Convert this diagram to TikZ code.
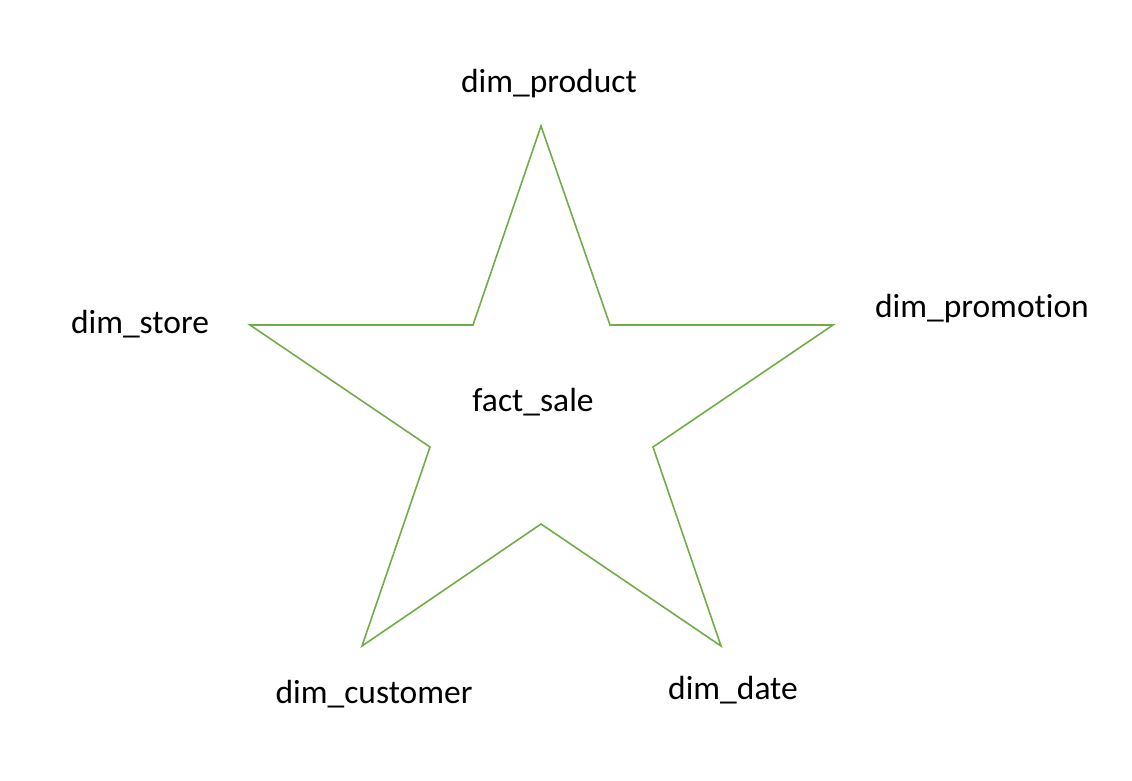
\documentclass[tikz,border=0pt]{standalone}
\usepackage{fontspec}
\setmainfont{Carlito}[RawFeature=-liga]
\definecolor{stargreen}{HTML}{70AD47}
\begin{document}
\begin{tikzpicture}[x=1pt,y=-1pt,
  lbl/.style={font=\fontsize{33.5}{38}\selectfont, text=black, inner sep=0pt, anchor=center},
  starline/.style={draw=stargreen, line width=1.6pt, line join=miter}]
\useasboundingbox (0,0) rectangle (1132,780);
\coordinate (p1) at (541,126);
\coordinate (p2) at (610,325);
\coordinate (p3) at (833,325);
\coordinate (p4) at (653,447);
\coordinate (p5) at (721,646);
\coordinate (p6) at (541,524);
\coordinate (p7) at (362,646);
\coordinate (p8) at (430,447);
\coordinate (p9) at (250,325);
\coordinate (p10) at (473,325);
\draw[starline] (p1) -- (p2) -- (p3) -- (p4) -- (p5) -- (p6) -- (p7) -- (p8) -- (p9) -- (p10) -- cycle;
\node[lbl] (prod) at (549,84) {dim\_product};
\node[lbl] (store) at (140,324) {dim\_store};
\node[lbl] (promo) at (982,309) {dim\_promotion};
\node[lbl] (fact) at (533,402) {fact\_sale};
\node[lbl] (cust) at (374,694) {dim\_customer};
\node[lbl] (date) at (733,690) {dim\_date};
\end{tikzpicture}
\end{document}
